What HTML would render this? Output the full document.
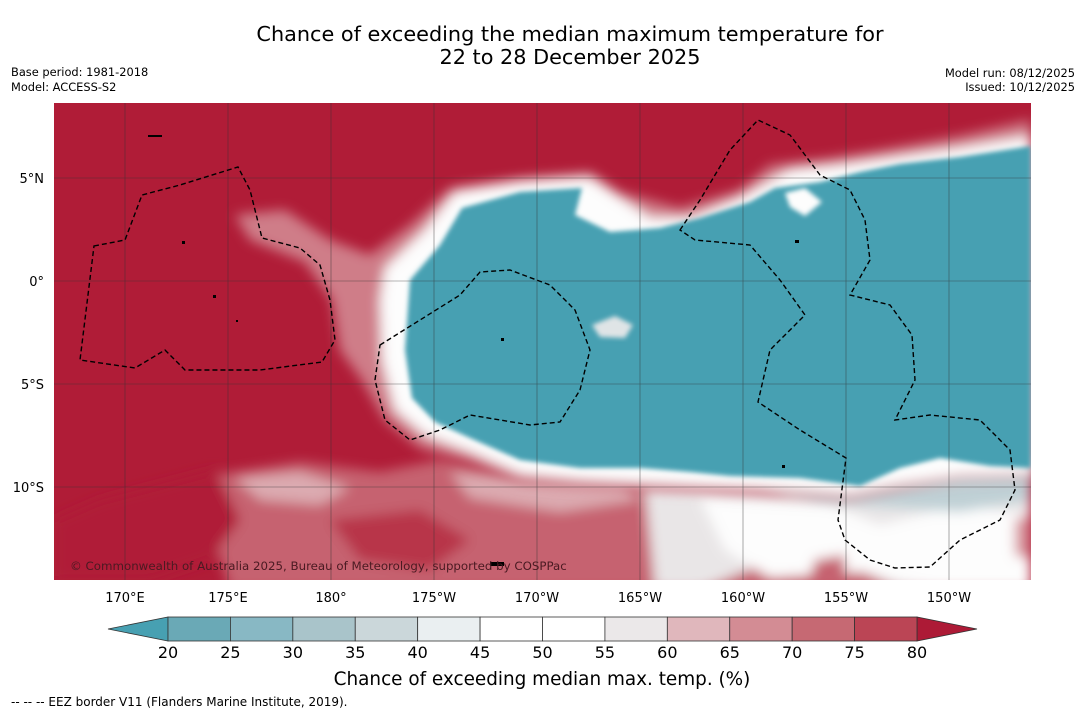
<!DOCTYPE html>
<html><head><meta charset="utf-8"><style>
body{margin:0;background:#fff;font-family:"Liberation Sans","DejaVu Sans",sans-serif;}
svg text{font-family:"DejaVu Sans","Liberation Sans",sans-serif;}
</style></head><body>
<svg width="1085" height="713" viewBox="0 0 1085 713" xmlns="http://www.w3.org/2000/svg">
<defs>
<filter id="b1" x="-20%" y="-20%" width="140%" height="140%"><feGaussianBlur stdDeviation="6"/></filter>
<filter id="b2" x="-20%" y="-20%" width="140%" height="140%"><feGaussianBlur stdDeviation="2.5"/></filter>
<clipPath id="mapclip"><rect x="54" y="103" width="977" height="477"/></clipPath>
</defs>
<text x="570" y="41" font-size="20.8" text-anchor="middle">Chance of exceeding the median maximum temperature for</text>
<text x="570" y="64" font-size="20.8" text-anchor="middle">22 to 28 December 2025</text>
<text x="11" y="76" font-size="11.4">Base period: 1981-2018</text>
<text x="11" y="91" font-size="11.4">Model: ACCESS-S2</text>
<text x="1075" y="77" font-size="11.4" text-anchor="end">Model run: 08/12/2025</text>
<text x="1075" y="91" font-size="11.4" text-anchor="end">Issued: 10/12/2025</text>

<g clip-path="url(#mapclip)">
<rect x="54" y="103" width="977" height="477" fill="#b01c37"/>
<g filter="url(#b1)">
<path d="M215,475 L300,462 L380,472 L440,460 L520,475 L600,482 L700,488 L800,492 L900,482 L1031,470 L1031,590 L230,590 L215,540 Z" fill="#c6626f"/>
<path d="M100,500 L215,470 L240,520 L210,560 L150,580 L54,580 L54,520 Z" fill="#b01c37"/>
<path d="M235,478 L300,472 L350,488 L320,505 L260,500 Z" fill="#dcaab0"/>
<path d="M330,520 L420,510 L470,540 L430,570 L360,560 Z" fill="#b83448"/>
<path d="M450,472 L520,480 L620,484 L640,500 L560,512 L470,498 Z" fill="#dcaab0"/>
<path d="M645,485 L760,490 L850,498 L1031,482 L1031,590 L900,590 L850,565 L760,565 L700,590 L655,590 Z" fill="#e9e6e7"/>
<path d="M700,498 L830,505 L880,525 L960,505 L1031,515 L1031,590 L940,590 L860,572 L770,578 L725,550 Z" fill="#fdfdfd"/>
<path d="M760,482 L900,472 L1031,462 L1031,500 L960,512 L900,508 L820,502 Z" fill="#bfd0d5"/>
<path d="M815,560 L845,555 L845,578 L810,578 Z" fill="#c6626f"/>
<path d="M1015,520 L1031,515 L1031,560 L1015,555 Z" fill="#d68f98"/>
</g>
<g filter="url(#b1)">
<path d="M235,215 L285,210 L330,240 L370,255 L410,225 L450,188 L520,178 L590,172 L620,192 L680,208 L740,190 L770,165 L830,158 L880,150 L960,136 L1031,120 L1031,478 L960,480 L900,490 L850,500 L760,495 L700,492 L640,490 L580,487 L520,482 L470,462 L420,448 L385,420 L362,380 L340,350 L332,300 L305,262 L250,240 Z" fill="#cf7d88"/>
<path d="M385,268 L425,230 L455,192 L520,182 L590,178 L620,198 L650,218 L690,218 L740,198 L790,170 L840,165 L890,158 L960,148 L1031,136 L1031,474 L960,476 L900,484 L850,494 L760,488 L700,486 L640,483 L580,480 L520,474 L470,452 L425,435 L395,410 L382,360 L380,300 Z" fill="#fdfdfd"/>
</g>
<path filter="url(#b2)" d="M410,280 L440,245 L462,208 L520,192 L582,188 L575,215 L610,232 L660,228 L700,218 L750,202 L775,188 L820,182 L860,172 L900,164 L960,157 L1031,146 L1031,468 L990,466 L940,458 L900,468 L860,486 L800,478 L730,476 L690,472 L640,468 L580,468 L520,460 L470,438 L435,422 L412,398 L405,350 Z" fill="#47a0b2"/>
<path d="M785,193 L805,188 L822,202 L805,216 L790,207 Z" fill="#fdfdfd" filter="url(#b2)"/>
<path d="M592,325 L615,316 L633,325 L625,338 L600,337 Z" fill="#dfe4e6" filter="url(#b2)"/>
<g id="grid" stroke="#333" stroke-width="0.6" opacity="0.7"></g>
<g fill="none" stroke="#000" stroke-width="1.4" stroke-dasharray="5,3">
<path d="M94,246 L125,240 L142,195 L180,185 L238,167 L250,190 L262,238 L300,248 L320,265 L330,300 L335,340 L322,362 L260,370 L185,370 L165,350 L135,368 L80,360 Z"/>
<path d="M380,345 L420,320 L460,295 L480,272 L510,270 L550,285 L575,310 L590,350 L580,390 L560,422 L530,425 L470,415 L440,430 L410,440 L385,420 L375,380 Z"/>
<path d="M680,230 L700,200 L730,150 L758,120 L790,135 L820,175 L850,190 L865,220 L870,260 L850,295 L890,305 L912,335 L915,380 L895,420 L930,415 L980,420 L1010,450 L1015,490 L1000,520 L960,540 L930,567 L895,568 L870,560 L845,540 L838,520 L846,458 L800,430 L758,402 L770,350 L805,315 L780,280 L750,245 L695,240 Z"/>
</g>
<g fill="#000">
<rect x="182" y="241" width="3" height="3"/><rect x="213" y="295" width="3" height="3"/><rect x="236" y="320" width="2" height="2"/><rect x="501" y="338" width="3" height="3"/><rect x="782" y="465" width="3" height="3"/><rect x="795" y="240" width="4" height="3"/><rect x="148" y="135" width="14" height="2"/><rect x="490" y="562" width="14" height="4"/>
</g>
<text x="70" y="570" font-size="11.8" fill="#4a1a22">© Commonwealth of Australia 2025, Bureau of Meteorology, supported by COSPPac</text>
</g>
<g id="axes"></g>
<g id="cbar"></g>
<text x="542" y="685" font-size="18.4" text-anchor="middle">Chance of exceeding median max. temp. (%)</text>
<text x="11" y="706" font-size="12">-- -- -- EEZ border V11 (Flanders Marine Institute, 2019).</text>
</svg>
<script>
const lonTicks=[170,175,180,185,190,195,200,205,210];
const lonLabels=["170°E","175°E","180°","175°W","170°W","165°W","160°W","155°W","150°W"];
const latTicks=[5,0,-5,-10];
const latLabels=["5°N","0°","5°S","10°S"];
const cbarBounds=[20,25,30,35,40,45,50,55,60,65,70,75,80];
const cbarColors=["#6aa9b6","#88b8c4","#a9c4ca","#cbd7da","#eaeff1","#ffffff","#ffffff","#ebe8e9","#e0b7bc","#d38c94","#c66973","#bb4555"];
const ns="http://www.w3.org/2000/svg";
const xLon=l=>125+(l-170)*20.6;
const yLat=a=>281-a*20.6;
const grid=document.getElementById('grid'),axes=document.getElementById('axes'),cb=document.getElementById('cbar');
function mk(t,a,p){const e=document.createElementNS(ns,t);for(const k in a)e.setAttribute(k,a[k]);p.appendChild(e);return e;}
lonTicks.forEach((l,i)=>{
 const g=mk('line',{x1:xLon(l),x2:xLon(l),y1:103,y2:580},grid);
 
 
 const t=mk('text',{x:xLon(l),y:602,'font-size':13,'text-anchor':'middle'},axes);t.textContent=lonLabels[i];
 
 
});
latTicks.forEach((a,i)=>{
 const g=mk('line',{x1:54,x2:1031,y1:yLat(a),y2:yLat(a)},grid);
 
 
 const t=mk('text',{x:44,y:yLat(a)+5,'font-size':13,'text-anchor':'end'},axes);t.textContent=latLabels[i];
 
 
});
const x0=168,x1=917,n=cbarColors.length,cy=617,ch=24;
const xv=v=>x0+(v-cbarBounds[0])/(cbarBounds[n]-cbarBounds[0])*(x1-x0);
const lt=mk('polygon',{points:`${x0},${cy} ${x0},${cy+ch} 108,${cy+ch/2}`,fill:'#47a0b2',stroke:'#333','stroke-width':0.8},cb);


const rt=mk('polygon',{points:`${x1},${cy} ${x1},${cy+ch} 977,${cy+ch/2}`,fill:'#ad1a36',stroke:'#333','stroke-width':0.8},cb);


cbarColors.forEach((c,i)=>{
 const r=mk('rect',{x:xv(cbarBounds[i]),y:cy,width:xv(cbarBounds[i+1])-xv(cbarBounds[i]),height:ch,fill:c,stroke:'#333','stroke-width':0.8},cb);
 
 
});
cbarBounds.forEach(v=>{
 const t=mk('text',{x:xv(v),y:658,'font-size':16,'text-anchor':'middle'},cb);t.textContent=v;
 
 
});
</script>
</body></html>
